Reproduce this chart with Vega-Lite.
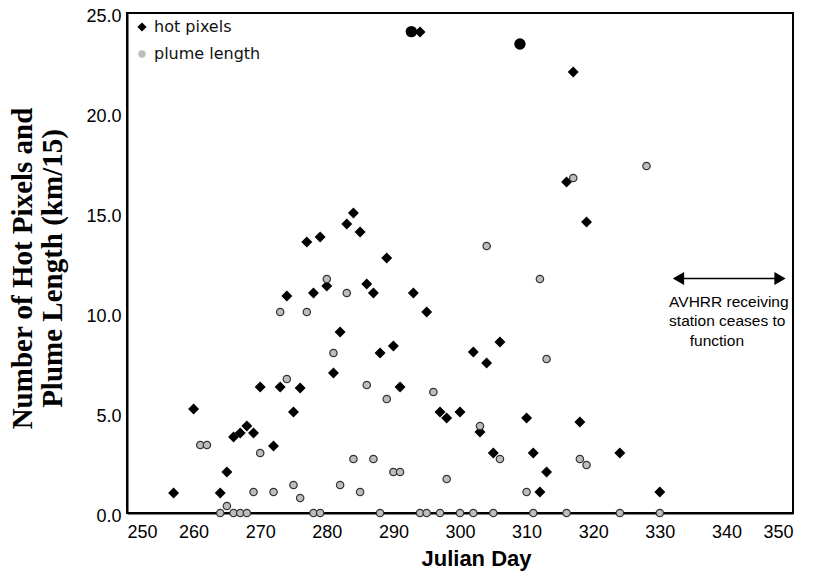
{
  "$schema": "https://vega.github.io/schema/vega-lite/v6.json",
  "width": 666,
  "height": 500,
  "autosize": {"type": "none"},
  "padding": {"left": 127, "top": 13, "right": 27, "bottom": 59},
  "background": "white",
  "config": {
    "view": {"stroke": "black", "strokeWidth": 2},
    "axis": {"grid": false, "ticks": false, "domainColor": "black", "domainWidth": 2, "labelColor": "black", "labelFont": "Liberation Sans", "labelFontSize": 18, "titleColor": "black"},
    "legend": {"symbolStrokeWidth": 0}
  },
  "datasets": {
    "obs": [
      {"day": 257, "value": 1.0, "series": "hot pixels"},
      {"day": 260, "value": 5.2, "series": "hot pixels"},
      {"day": 264, "value": 1.0, "series": "hot pixels"},
      {"day": 265, "value": 2.05, "series": "hot pixels"},
      {"day": 266, "value": 3.8, "series": "hot pixels"},
      {"day": 267, "value": 4.0, "series": "hot pixels"},
      {"day": 268, "value": 4.35, "series": "hot pixels"},
      {"day": 269, "value": 4.0, "series": "hot pixels"},
      {"day": 270, "value": 6.3, "series": "hot pixels"},
      {"day": 272, "value": 3.35, "series": "hot pixels"},
      {"day": 273, "value": 6.3, "series": "hot pixels"},
      {"day": 274, "value": 10.85, "series": "hot pixels"},
      {"day": 275, "value": 5.05, "series": "hot pixels"},
      {"day": 276, "value": 6.25, "series": "hot pixels"},
      {"day": 277, "value": 13.55, "series": "hot pixels"},
      {"day": 278, "value": 11.0, "series": "hot pixels"},
      {"day": 279, "value": 13.8, "series": "hot pixels"},
      {"day": 280, "value": 11.35, "series": "hot pixels"},
      {"day": 281, "value": 7.0, "series": "hot pixels"},
      {"day": 282, "value": 9.05, "series": "hot pixels"},
      {"day": 283, "value": 14.45, "series": "hot pixels"},
      {"day": 284, "value": 15.0, "series": "hot pixels"},
      {"day": 285, "value": 14.05, "series": "hot pixels"},
      {"day": 286, "value": 11.45, "series": "hot pixels"},
      {"day": 287, "value": 11.0, "series": "hot pixels"},
      {"day": 288, "value": 8.0, "series": "hot pixels"},
      {"day": 289, "value": 12.75, "series": "hot pixels"},
      {"day": 290, "value": 8.35, "series": "hot pixels"},
      {"day": 291, "value": 6.3, "series": "hot pixels"},
      {"day": 293, "value": 11.0, "series": "hot pixels"},
      {"day": 294, "value": 24.05, "series": "hot pixels"},
      {"day": 295, "value": 10.05, "series": "hot pixels"},
      {"day": 297, "value": 5.05, "series": "hot pixels"},
      {"day": 298, "value": 4.75, "series": "hot pixels"},
      {"day": 300, "value": 5.05, "series": "hot pixels"},
      {"day": 302, "value": 8.05, "series": "hot pixels"},
      {"day": 303, "value": 4.05, "series": "hot pixels"},
      {"day": 304, "value": 7.5, "series": "hot pixels"},
      {"day": 305, "value": 3.0, "series": "hot pixels"},
      {"day": 306, "value": 8.55, "series": "hot pixels"},
      {"day": 310, "value": 4.75, "series": "hot pixels"},
      {"day": 311, "value": 3.0, "series": "hot pixels"},
      {"day": 312, "value": 1.05, "series": "hot pixels"},
      {"day": 313, "value": 2.05, "series": "hot pixels"},
      {"day": 316, "value": 16.55, "series": "hot pixels"},
      {"day": 317, "value": 22.05, "series": "hot pixels"},
      {"day": 318, "value": 4.55, "series": "hot pixels"},
      {"day": 319, "value": 14.55, "series": "hot pixels"},
      {"day": 324, "value": 3.0, "series": "hot pixels"},
      {"day": 330, "value": 1.05, "series": "hot pixels"},
      {"day": 261, "value": 3.4, "series": "plume length"},
      {"day": 262, "value": 3.4, "series": "plume length"},
      {"day": 264, "value": 0, "series": "plume length"},
      {"day": 265, "value": 0.35, "series": "plume length"},
      {"day": 266, "value": 0, "series": "plume length"},
      {"day": 267, "value": 0, "series": "plume length"},
      {"day": 268, "value": 0, "series": "plume length"},
      {"day": 269, "value": 1.05, "series": "plume length"},
      {"day": 270, "value": 3.0, "series": "plume length"},
      {"day": 272, "value": 1.05, "series": "plume length"},
      {"day": 273, "value": 10.05, "series": "plume length"},
      {"day": 274, "value": 6.7, "series": "plume length"},
      {"day": 275, "value": 1.4, "series": "plume length"},
      {"day": 276, "value": 0.75, "series": "plume length"},
      {"day": 277, "value": 10.05, "series": "plume length"},
      {"day": 278, "value": 0, "series": "plume length"},
      {"day": 279, "value": 0, "series": "plume length"},
      {"day": 280, "value": 11.7, "series": "plume length"},
      {"day": 281, "value": 8.0, "series": "plume length"},
      {"day": 282, "value": 1.4, "series": "plume length"},
      {"day": 283, "value": 11.0, "series": "plume length"},
      {"day": 284, "value": 2.7, "series": "plume length"},
      {"day": 285, "value": 1.05, "series": "plume length"},
      {"day": 286, "value": 6.4, "series": "plume length"},
      {"day": 287, "value": 2.7, "series": "plume length"},
      {"day": 288, "value": 0, "series": "plume length"},
      {"day": 289, "value": 5.7, "series": "plume length"},
      {"day": 290, "value": 2.05, "series": "plume length"},
      {"day": 291, "value": 2.05, "series": "plume length"},
      {"day": 294, "value": 0, "series": "plume length"},
      {"day": 295, "value": 0, "series": "plume length"},
      {"day": 296, "value": 6.05, "series": "plume length"},
      {"day": 297, "value": 0, "series": "plume length"},
      {"day": 298, "value": 1.7, "series": "plume length"},
      {"day": 300, "value": 0, "series": "plume length"},
      {"day": 302, "value": 0, "series": "plume length"},
      {"day": 303, "value": 4.35, "series": "plume length"},
      {"day": 304, "value": 13.35, "series": "plume length"},
      {"day": 305, "value": 0, "series": "plume length"},
      {"day": 306, "value": 2.7, "series": "plume length"},
      {"day": 310, "value": 1.05, "series": "plume length"},
      {"day": 311, "value": 0, "series": "plume length"},
      {"day": 312, "value": 11.7, "series": "plume length"},
      {"day": 313, "value": 7.7, "series": "plume length"},
      {"day": 316, "value": 0, "series": "plume length"},
      {"day": 317, "value": 16.75, "series": "plume length"},
      {"day": 318, "value": 2.7, "series": "plume length"},
      {"day": 319, "value": 2.4, "series": "plume length"},
      {"day": 324, "value": 0, "series": "plume length"},
      {"day": 328, "value": 17.35, "series": "plume length"},
      {"day": 330, "value": 0, "series": "plume length"}
    ],
    "big": [
      {"day": 292.7, "value": 24.07},
      {"day": 309, "value": 23.45}
    ],
    "arrow": [
      {"start": 332.4, "end": 348.5, "value": 11.73}
    ],
    "heads": [
      {"day": 332.8, "value": 11.73, "dir": "left"},
      {"day": 348.05, "value": 11.73, "dir": "right"}
    ],
    "note": [
      {"day": 331.4, "value": 10.55, "text": "AVHRR receiving"},
      {"day": 331.4, "value": 9.6, "text": "station ceases to"},
      {"day": 334.5, "value": 8.62, "text": "function"}
    ]
  },
  "layer": [
    {
      "data": {"name": "obs"},
      "mark": {"type": "point", "filled": true, "strokeWidth": 1.2, "opacity": 1},
      "encoding": {
        "x": {"field": "day", "type": "quantitative", "scale": {"domain": [250, 350], "nice": false}, "axis": {"values": [250, 260, 270, 280, 290, 300, 310, 320, 330, 340, 350], "format": "d", "labelPadding": 10, "title": "Julian Day", "titleFont": "Liberation Sans", "titleFontSize": 22, "titleFontWeight": "bold", "titleX": 349, "titleY": 52, "titleBaseline": "alphabetic", "titleAnchor": null, "titleAlign": "center"}},
        "y": {"field": "value", "type": "quantitative", "scale": {"domain": [0, 25], "nice": false}, "axis": {"values": [0, 5, 10, 15, 20, 25], "format": ".1f", "labelPadding": 6, "labelOffset": 3, "title": ["Number of Hot Pixels and", "Plume Length (km/15)"], "titleFont": "Liberation Serif", "titleFontSize": 29, "titleFontWeight": "bold", "titleAngle": -90, "titleX": -90, "titleY": 255, "titleBaseline": "bottom", "titleAlign": "center", "titleLineHeight": 30}},
        "shape": {"field": "series", "type": "nominal", "scale": {"domain": ["hot pixels", "plume length"], "range": ["diamond", "circle"]}, "legend": {"title": null, "orient": "none", "legendX": 7, "legendY": 6, "labelFont": "DejaVu Sans", "labelFontSize": 16, "labelColor": "#111", "rowPadding": 11, "labelOffset": 4}},
        "fill": {"field": "series", "type": "nominal", "scale": {"domain": ["hot pixels", "plume length"], "range": ["black", "#bdbdbd"]}},
        "stroke": {"field": "series", "type": "nominal", "scale": {"domain": ["hot pixels", "plume length"], "range": ["black", "#333333"]}},
        "size": {"field": "series", "type": "nominal", "scale": {"domain": ["hot pixels", "plume length"], "range": [85, 55]}}
      }
    },
    {
      "data": {"name": "big"},
      "mark": {"type": "circle", "color": "black", "size": 130, "opacity": 1},
      "encoding": {
        "x": {"field": "day", "type": "quantitative"},
        "y": {"field": "value", "type": "quantitative"}
      }
    },
    {
      "data": {"name": "arrow"},
      "mark": {"type": "rule", "color": "black", "strokeWidth": 1.5},
      "encoding": {
        "x": {"field": "start", "type": "quantitative"},
        "x2": {"field": "end"},
        "y": {"field": "value", "type": "quantitative"}
      }
    },
    {
      "data": {"name": "heads"},
      "transform": [{"filter": "datum.dir == 'left'"}],
      "mark": {"type": "point", "filled": true, "color": "black", "size": 170, "opacity": 1, "shape": "triangle-left"},
      "encoding": {
        "x": {"field": "day", "type": "quantitative"},
        "y": {"field": "value", "type": "quantitative"}
      }
    },
    {
      "data": {"name": "heads"},
      "transform": [{"filter": "datum.dir == 'right'"}],
      "mark": {"type": "point", "filled": true, "color": "black", "size": 170, "opacity": 1, "shape": "triangle-right"},
      "encoding": {
        "x": {"field": "day", "type": "quantitative"},
        "y": {"field": "value", "type": "quantitative"}
      }
    },
    {
      "data": {"name": "note"},
      "mark": {"type": "text", "align": "left", "baseline": "middle", "font": "Liberation Sans", "fontSize": 15.5, "color": "black"},
      "encoding": {
        "x": {"field": "day", "type": "quantitative"},
        "y": {"field": "value", "type": "quantitative"},
        "text": {"field": "text"}
      }
    }
  ]
}
